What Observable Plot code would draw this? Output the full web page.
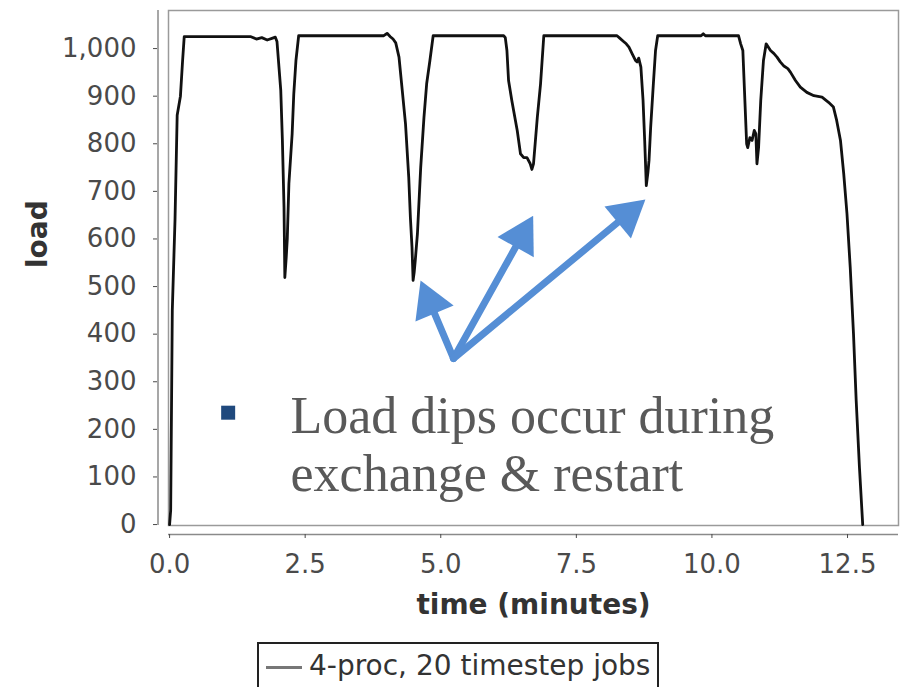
<!DOCTYPE html>
<html>
<head>
<meta charset="utf-8">
<script src="https://cdn.jsdelivr.net/npm/d3@7"></script>
<script src="https://cdn.jsdelivr.net/npm/@observablehq/plot@0.6"></script>
<style>
  html, body { margin: 0; padding: 0; background: #fff; }
  #wrap { position: relative; width: 905px; height: 687px; overflow: hidden; }
  #legend { position: absolute; left: 257px; top: 642px; width: 402px; height: 60px;
    border: 2px solid #222; box-sizing: border-box; font-family: "DejaVu Sans", sans-serif;
    font-size: 28px; color: #333; white-space: nowrap; }
  #legend .sw { position: absolute; left: 7px; top: 22px; width: 36px; height: 3px; background: #777; }
  #legend .lb { position: absolute; left: 50px; top: 4px; line-height: 36px; }
</style>
</head>
<body>
<div id="wrap"></div>
<script>
// ---- data ----
const time = [0, 0.02, 0.05, 0.1, 0.14, 0.2, 0.24, 0.27, 0.6, 1.0, 1.5, 1.6, 1.7, 1.8, 1.9, 1.95,
  1.98, 2.05, 2.08, 2.11, 2.125, 2.15, 2.17, 2.2, 2.26, 2.29, 2.33, 2.38, 3.0, 3.5, 3.95, 4.01, 4.07,
  4.12, 4.17, 4.23, 4.29, 4.35, 4.41, 4.44, 4.47, 4.49, 4.51, 4.53, 4.57, 4.63, 4.69, 4.74, 4.80, 4.86,
  5.5, 6.16, 6.19, 6.22, 6.25, 6.31, 6.41, 6.47, 6.53, 6.59, 6.65, 6.68, 6.71, 6.78, 6.84, 6.90,
  7.5, 8.25, 8.30, 8.37, 8.42, 8.47, 8.53, 8.59, 8.62, 8.65, 8.69, 8.73, 8.76, 8.79, 8.82, 8.84, 8.87,
  8.92, 8.96, 9.0, 9.8, 9.84, 9.88, 10.49, 10.53, 10.57, 10.6, 10.64, 10.66, 10.70, 10.74, 10.78, 10.81,
  10.83, 10.86, 10.90, 10.95, 11.0, 11.08, 11.14, 11.2, 11.26, 11.32, 11.4, 11.45, 11.54, 11.63, 11.75,
  11.88, 12.03, 12.15, 12.24, 12.3, 12.37, 12.43, 12.49, 12.55, 12.61, 12.66, 12.72, 12.78];
const load = [0, 30, 450, 640, 860, 900, 975, 1025, 1025, 1025, 1025, 1020, 1023, 1018, 1022, 1024,
  1015, 912, 807, 666, 519, 560, 600, 716, 821, 905, 975, 1027, 1027, 1027, 1027, 1032, 1025,
  1020, 1012, 982, 912, 842, 729, 645, 582, 513, 530, 555, 611, 750, 855, 926, 975, 1027,
  1027, 1027, 1023, 996, 933, 891, 828, 779, 771, 771, 758, 746, 758, 855, 926, 1027,
  1027, 1027, 1022, 1015, 1010, 1003, 989, 975, 972, 980, 961, 891, 807, 712, 740, 765, 834,
  926, 996, 1027, 1027, 1031, 1027, 1027, 1010, 996, 912, 800, 792, 813, 807, 828, 821,
  758, 792, 891, 975, 1010, 996, 990, 982, 972, 964, 958, 950, 933, 919, 908,
  901, 898, 887, 877, 849, 807, 737, 653, 540, 401, 260, 120, 0];
const series = time.map((t, i) => ({time: t, load: load[i]}));

const xTicks = [0, 2.5, 5, 7.5, 10, 12.5];
const yTicks = [0, 100, 200, 300, 400, 500, 600, 700, 800, 900, 1000];
const xDomain = [-0.02, 13.44];
const yDomain = [-2, 1080];
const xTitle = "time (minutes)";
const yTitle = "load";
const legendLabel = "4-proc, 20 timestep jobs";

// annotation (in data units)
const noteText = ["Load dips occur during\nexchange & restart"];
const notePos = {time: 2.23, load: 170};
const bulletPos = {time: 1.08, load: 235};
const arrowStart = {time: 5.235, load: 349};
const arrowTips = [
  {time: 4.627, load: 513},
  {time: 6.704, load: 649},
  {time: 8.774, load: 683}
];

const BLUE = "#558ED5";

function build(heads, shafts) {
  return Plot.plot({
    width: 905, height: 641,
    marginLeft: 168, marginRight: 7, marginTop: 10, marginBottom: 116,
    style: {fontFamily: "DejaVu Sans, sans-serif", fontSize: "26px", background: "#fff", overflow: "visible"},
    x: {domain: xDomain},
    y: {domain: yDomain},
    marks: [
      Plot.frame({stroke: "#9a9a9a", strokeWidth: 1.5}),
      Plot.ruleX([xDomain[0]], {dx: -10.5, stroke: "#8a8a8a", strokeWidth: 1.5}),
      Plot.ruleY([yDomain[0]], {dy: 9, stroke: "#8a8a8a", strokeWidth: 1.5}),
      Plot.axisY({ticks: yTicks, tickFormat: d3.format(","), tickSize: 4, tickPadding: 17, dx: -11,
        color: "#4a4a4a", label: null, fontSize: 26}),
      Plot.axisX({ticks: xTicks, tickFormat: d3.format(".1f"), tickSize: 4, tickPadding: 16, dy: 9,
        color: "#4a4a4a", label: null, fontSize: 26}),
      Plot.text([xTitle], {frameAnchor: "bottom", dy: 88, text: d => d, fontWeight: "bold", fontSize: 28, fill: "#333"}),
      Plot.text([yTitle], {frameAnchor: "left", dx: -130, rotate: -90, text: d => d, fontWeight: "bold", fontSize: 28, fill: "#333"}),
      Plot.line(series, {x: "time", y: "load", stroke: "#111", strokeWidth: 2.8, strokeLinejoin: "round"}),
      Plot.dot([bulletPos], {x: "time", y: "load", symbol: "square", r: 7.9, fill: "#1F497D", stroke: null}),
      Plot.text(noteText, {x: () => notePos.time, y: () => notePos.load, text: d => d, textAnchor: "start",
        lineAnchor: "middle", lineHeight: 1.1, fontFamily: "Liberation Serif, serif", fontSize: 52, fill: "#595959"}),
      Plot.link(shafts, {x1: "x1", y1: "y1", x2: "x2", y2: "y2", stroke: BLUE, strokeWidth: 7, strokeLinecap: "round"}),
      Plot.dot(heads, {x: "x", y: "y", rotate: "rotate", symbol: "triangle", r: 15.4, fill: BLUE, stroke: null})
    ]
  });
}

const p1 = build([], []);
const sx = p1.scale("x"), sy = p1.scale("y");
const H = 36; // head length in px
const heads = [], shafts = [];
const s0 = [sx.apply(arrowStart.time), sy.apply(arrowStart.load)];
for (const tip of arrowTips) {
  const p = [sx.apply(tip.time), sy.apply(tip.load)];
  const dx = p[0] - s0[0], dy = p[1] - s0[1];
  const L = Math.hypot(dx, dy), ux = dx / L, uy = dy / L;
  const c = [p[0] - ux * H * 2 / 3, p[1] - uy * H * 2 / 3];
  const e = [p[0] - ux * H * 0.8, p[1] - uy * H * 0.8];
  heads.push({x: sx.invert(c[0]), y: sy.invert(c[1]), rotate: Math.atan2(ux, -uy) * 180 / Math.PI});
  shafts.push({x1: arrowStart.time, y1: arrowStart.load, x2: sx.invert(e[0]), y2: sy.invert(e[1])});
}
const chart = build(heads, shafts);
const wrap = document.getElementById("wrap");
wrap.appendChild(chart);
const lg = document.createElement("div");
lg.id = "legend";
lg.innerHTML = '<div class="sw"></div><div class="lb"></div>';
lg.querySelector(".lb").textContent = legendLabel;
wrap.appendChild(lg);
</script>
</body>
</html>
